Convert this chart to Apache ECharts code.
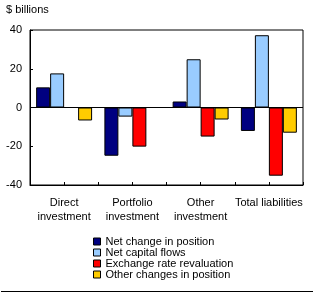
<!DOCTYPE html>
<html>
<head>
<meta charset="utf-8">
<script src="https://cdn.jsdelivr.net/npm/echarts@6/dist/echarts.min.js"></script>
<style>
  html, body { margin: 0; padding: 0; background: #fff; }
  #chart { width: 316px; height: 297px; }
</style>
</head>
<body>
<div id="chart"></div>
<script>
const categories = ['Direct\ninvestment', 'Portfolio\ninvestment', 'Other\ninvestment', 'Total liabilities']
const netChange = [10.4, -24.9, 3.1, -12.1]
const netFlows = [17.6, -4.7, 24.9, 37.3]
const fxReval = [0, -20.2, -15, -35.2]
const otherChanges = [-6.7, 0, -6.2, -13]
const yTicks = [-40, -20, 0, 20, 40]

const font = 'Arial, "Liberation Sans", sans-serif'

const chart = echarts.init(document.getElementById('chart'))

const barStyle = color => ({ color: color, borderColor: '#000', borderWidth: 1 })

const option = {
  animation: false,
  backgroundColor: '#fff',
  textStyle: { fontFamily: font },
  title: {
    text: '$ billions',
    left: 6,
    top: 4,
    padding: 0,
    textStyle: { fontSize: 11, fontWeight: 'normal', color: '#000', fontFamily: font }
  },
  grid: {
    left: 30,
    top: 30,
    width: 273,
    height: 155,
    show: true,
    borderColor: '#000',
    borderWidth: 1,
    backgroundColor: 'transparent'
  },
  legend: {
    orient: 'vertical',
    left: 93,
    top: 236,
    padding: 0,
    itemWidth: 7,
    itemHeight: 7,
    itemGap: 0,
    icon: 'rect',
    itemStyle: { borderColor: '#000', borderWidth: 1 },
    textStyle: { fontSize: 11, color: '#000', lineHeight: 10.5, fontFamily: font },
    data: ['Net change in position', 'Net capital flows', 'Exchange rate revaluation', 'Other changes in position']
  },
  xAxis: [
    {
      type: 'category',
      data: categories,
      position: 'bottom',
      axisLine: { onZero: false, lineStyle: { color: '#000' } },
      axisTick: { show: false },
      axisLabel: { color: '#000', fontSize: 11, lineHeight: 14, margin: 11, interval: 0, fontFamily: font }
    },
    {
      type: 'category',
      data: ['', '', '', '', '', '', '', ''],
      position: 'bottom',
      axisLine: { show: false, onZero: false },
      axisTick: { show: true, inside: true, length: 3, lineStyle: { color: '#000' } },
      axisLabel: { show: false }
    }
  ],
  yAxis: {
    type: 'value',
    min: yTicks[0],
    max: yTicks[yTicks.length - 1],
    interval: 20,
    axisLine: { show: true, lineStyle: { color: '#000' } },
    axisTick: { show: true, inside: true, length: 3, lineStyle: { color: '#000' } },
    axisLabel: { color: '#000', fontSize: 11, margin: 8, fontFamily: font },
    splitLine: { show: false }
  },
  series: [
    {
      name: 'Net change in position',
      type: 'bar',
      data: netChange,
      barGap: '0%',
      barCategoryGap: '18%',
      itemStyle: barStyle('#000080'),
      markLine: {
        silent: true,
        symbol: 'none',
        label: { show: false },
        lineStyle: { color: '#000', width: 1, type: 'solid' },
        data: [{ yAxis: 0 }]
      }
    },
    { name: 'Net capital flows', type: 'bar', data: netFlows, barGap: '0%', barCategoryGap: '18%', itemStyle: barStyle('#99ccff') },
    { name: 'Exchange rate revaluation', type: 'bar', data: fxReval, barGap: '0%', barCategoryGap: '18%', itemStyle: barStyle('#ff0000') },
    { name: 'Other changes in position', type: 'bar', data: otherChanges, barGap: '0%', barCategoryGap: '18%', itemStyle: barStyle('#ffcc00') }
  ],
  graphic: [
    {
      type: 'line',
      shape: { x1: 1, y1: 291.5, x2: 313, y2: 291.5 },
      style: { stroke: '#000', lineWidth: 1 }
    }
  ]
}

chart.setOption(option)
</script>
</body>
</html>
